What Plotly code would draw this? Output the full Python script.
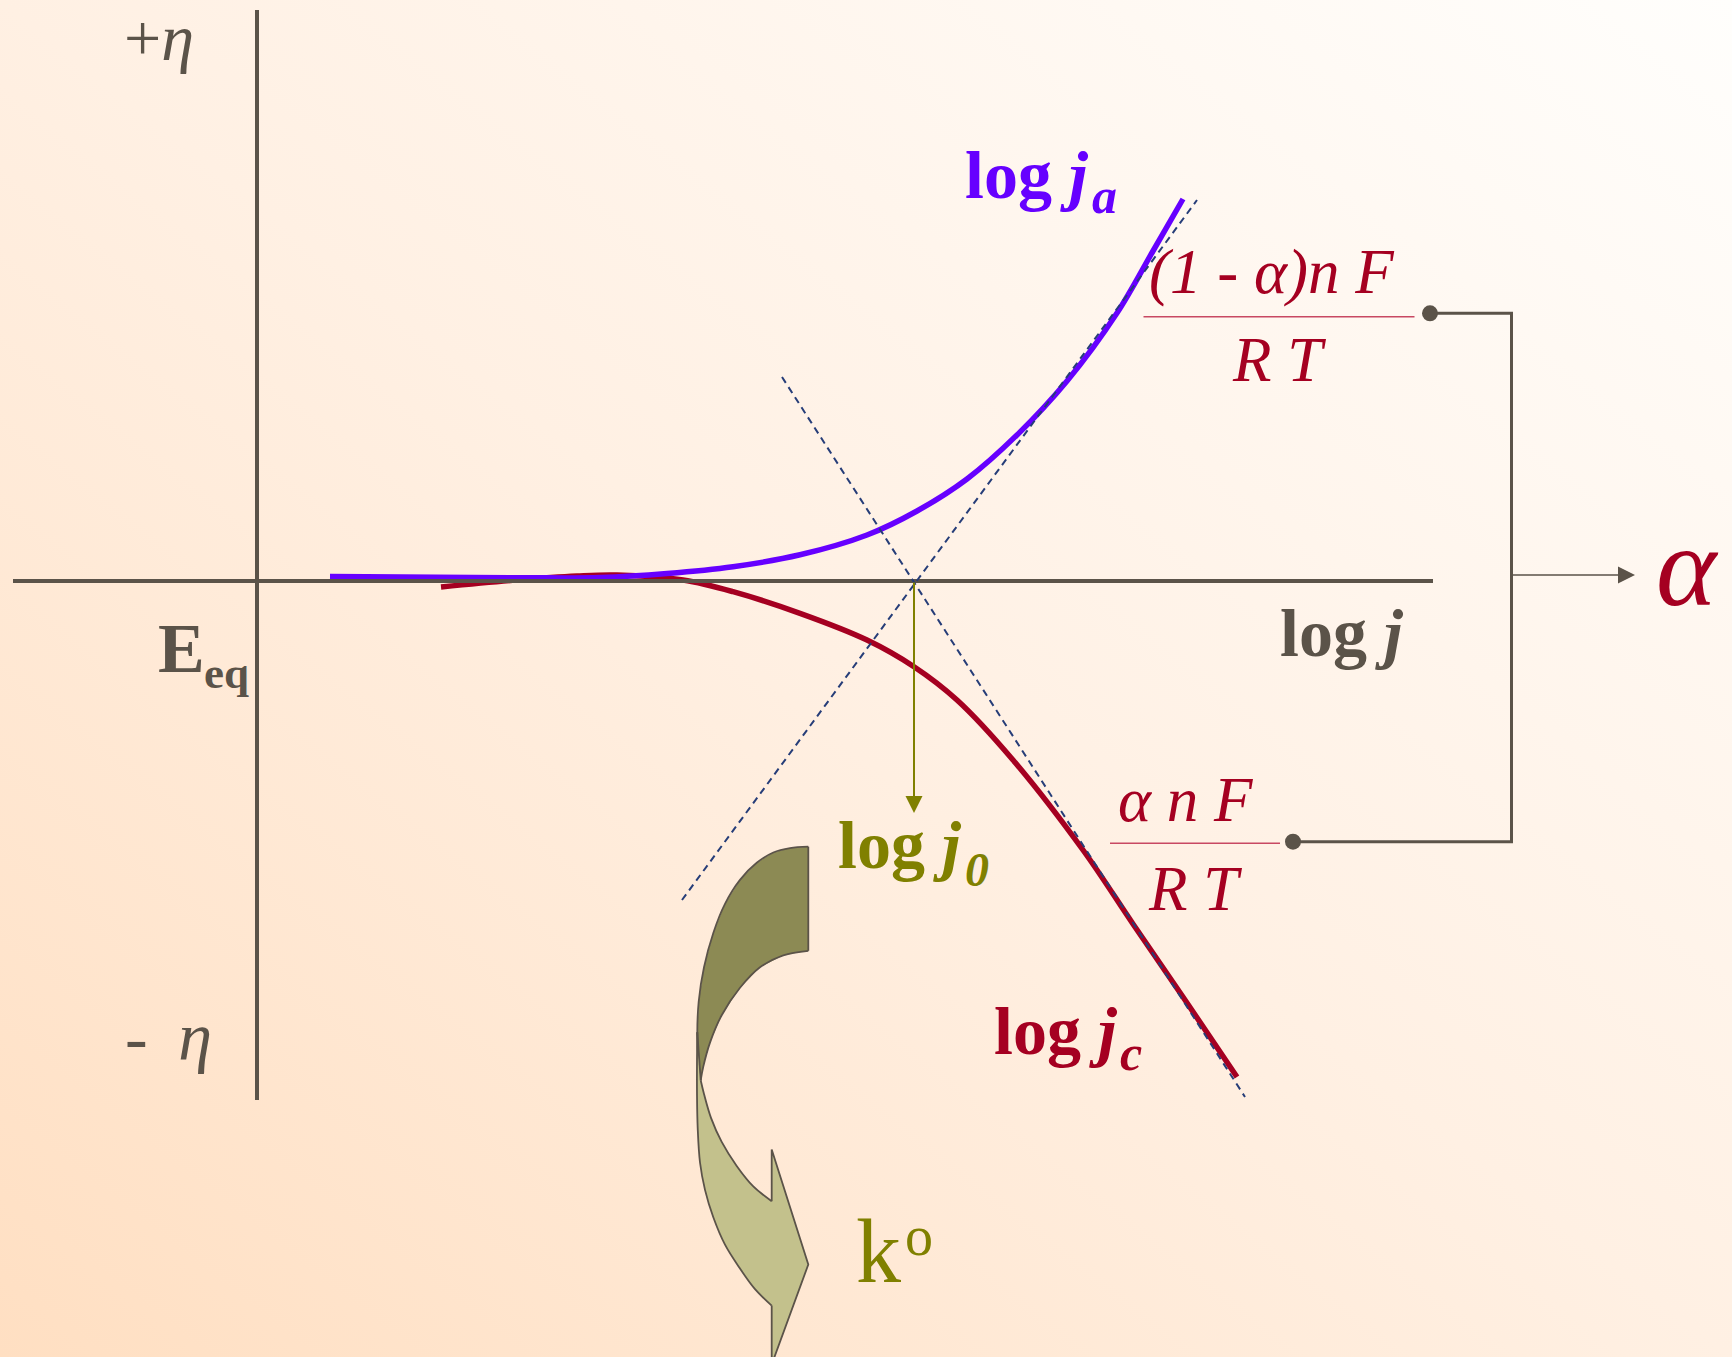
import base64
import plotly.graph_objects as go

# ---------------------------------------------------------------
# Tafel plot: overpotential eta (vertical) versus log j (horizontal)
# one unit on either axis = 100 px on the page
# ---------------------------------------------------------------

LOG_J0 = 6.57          # exchange current density, where the Tafel lines cross

# anodic branch, log j_a
anodic_logj = [0.73, 1.80, 2.70, 3.43, 4.10, 4.76, 5.43, 6.10, 6.60, 7.10, 7.60, 8.10, 8.60, 8.96, 9.26]
anodic_eta = [0.045, 0.037, 0.032, 0.035, 0.075, 0.143, 0.262, 0.46, 0.70, 1.02, 1.46, 2.00, 2.68, 3.30, 3.82]

# cathodic branch, log j_c
cathodic_logj = [1.84, 2.60, 3.20, 3.60, 4.26, 4.76, 5.43, 6.10, 6.57, 7.00, 7.56, 8.26, 8.76, 9.26, 9.80]
cathodic_eta = [-0.06, 0.01, 0.05, 0.06, 0.01, -0.107, -0.323, -0.59, -0.857, -1.19, -1.79, -2.69, -3.43, -4.16, -4.96]

# Tafel asymptotes (dashed)
anodic_tafel_logj = [4.25, 9.40]
anodic_tafel_eta = [-3.19, 3.81]
cathodic_tafel_logj = [5.25, 9.88]
cathodic_tafel_eta = [2.04, -5.16]

# drawn axes
eta_axis_logj = [0.0, 0.0]
eta_axis_eta = [5.71, -5.19]
logj_axis_logj = [-2.44, 11.76]
logj_axis_eta = [0.0, 0.0]

# bracket joining both slopes to alpha
bracket_x = [11.73, 12.545, 12.545, 10.36]
bracket_y = [2.677, 2.677, -2.607, -2.607]
alpha_arrow_x = [12.545, 13.78]
alpha_arrow_y = 0.06

# fraction bars of the two slope expressions
anodic_bar_x = [8.865, 11.575]
anodic_bar_y = [2.643, 2.643]
cathodic_bar_x = [8.53, 10.23]
cathodic_bar_y = [-2.623, -2.623]

# foot of the arrow dropped from the crossing point onto the log j0 label
j0_arrow_eta = -2.32

# curved block arrow (log j0 -> k°)
# back band: outer arc (0-11), inner arc (11-18), straight right edge back to 0
arrow_back_x = [5.513, 5.33, 5.163, 4.997, 4.83, 4.68, 4.563, 4.47, 4.417, 4.403, 4.413, 4.437,
                4.463, 4.53, 4.647, 4.83, 5.03, 5.263, 5.513]
arrow_back_y = [-2.657, -2.671, -2.715, -2.818, -2.989, -3.229, -3.52, -3.863, -4.205, -4.513, -4.787, -4.993,
                -4.856, -4.616, -4.342, -4.068, -3.863, -3.743, -3.698]
# front band: outer curve (0-10), head (10-14), inner curve (14-20)
arrow_front_x = [4.403, 4.40, 4.40, 4.407, 4.43, 4.48, 4.563, 4.68, 4.83, 4.98, 5.147, 5.147,
                 5.513, 5.147, 5.147, 4.963, 4.797, 4.647, 4.54, 4.47, 4.437]
arrow_front_y = [-4.513, -4.787, -5.13, -5.472, -5.815, -6.089, -6.363, -6.637, -6.876, -7.082, -7.246, -7.835,
                 -6.835, -5.685, -6.202, -6.054, -5.849, -5.609, -5.369, -5.13, -4.993]

# ---------------------------------------------------------------
GREY = "#5B5349"
BLUE = "#6600FF"
RED = "#A50021"
OLIVE = "#808000"
DASH = "#263D78"
BAR = "#C84862"
FONT = "Liberation Serif"

fig = go.Figure()


def band(xs, ys, fillcolor, curved, straight):
    """Filled outline; curved runs are stroked as splines, straight runs as polylines."""
    fig.add_trace(go.Scatter(x=xs, y=ys, mode="lines", fill="toself", fillcolor=fillcolor,
                             line=dict(width=0)))
    for a, b in curved:
        fig.add_trace(go.Scatter(x=xs[a:b + 1], y=ys[a:b + 1], mode="lines",
                                 line=dict(color=GREY, width=1.8, shape="spline", smoothing=1.0)))
    for idx in straight:
        fig.add_trace(go.Scatter(x=[xs[i] for i in idx], y=[ys[i] for i in idx], mode="lines",
                                 line=dict(color=GREY, width=1.8)))


band(arrow_back_x, arrow_back_y, "#8C8A54", [(0, 11), (11, 18)], [[18, 0]])
band(arrow_front_x, arrow_front_y, "#C3C18C", [(0, 10), (14, 20)], [[10, 11, 12, 13, 14], [20, 0]])

fig.add_trace(go.Scatter(x=cathodic_logj, y=cathodic_eta, mode="lines",
                         line=dict(color=RED, width=5.5, shape="spline", smoothing=1.0)))
fig.add_trace(go.Scatter(x=anodic_logj, y=anodic_eta, mode="lines",
                         line=dict(color=BLUE, width=5.5, shape="spline", smoothing=1.0)))

for xs, ys in [(eta_axis_logj, eta_axis_eta), (logj_axis_logj, logj_axis_eta)]:
    fig.add_trace(go.Scatter(x=xs, y=ys, mode="lines", line=dict(color=GREY, width=4)))

for xs, ys in [(anodic_tafel_logj, anodic_tafel_eta), (cathodic_tafel_logj, cathodic_tafel_eta)]:
    fig.add_trace(go.Scatter(x=xs, y=ys, mode="lines",
                             line=dict(color=DASH, width=2, dash="7px,5px")))

for xs, ys in [(anodic_bar_x, anodic_bar_y), (cathodic_bar_x, cathodic_bar_y)]:
    fig.add_trace(go.Scatter(x=xs, y=ys, mode="lines", line=dict(color=BAR, width=1.5)))

fig.add_trace(go.Scatter(x=bracket_x, y=bracket_y, mode="lines", line=dict(color=GREY, width=3)))
fig.add_trace(go.Scatter(x=[bracket_x[0], bracket_x[-1]], y=[bracket_y[0], bracket_y[-1]], mode="markers",
                         marker=dict(color=GREY, size=16)))

annotations = []


def label(x, y, text, size, color, anchor="left", pad=1):
    annotations.append(dict(x=x, y=y, xref="x", yref="y", text=text, showarrow=False,
                            xanchor=anchor, yanchor="middle", borderpad=pad,
                            font=dict(family=FONT, size=size, color=color)))


def arrow(x0, y0, x1, y1, color, width, size):
    annotations.append(dict(x=x1, y=y1, ax=x0, ay=y0, xref="x", yref="y", axref="x", ayref="y",
                            text="", showarrow=True, arrowhead=2, arrowsize=size,
                            arrowwidth=width, arrowcolor=color, standoff=0))


arrow(LOG_J0, 0.0, LOG_J0, j0_arrow_eta, OLIVE, 2, 1.7)
arrow(alpha_arrow_x[0], alpha_arrow_y, alpha_arrow_x[1], alpha_arrow_y, GREY, 1.5, 2.27)

# axis labels
label(-1.34, 5.44, "+<i>η</i>", 66, GREY, pad=0)
label(-1.34, -4.56, "-\u00a0\u2009<i>η</i>", 68, GREY)
label(-1.01, -0.671, "<b>E</b>", 70, GREY)
label(-0.553, -0.918, "<b>eq</b>", 45, GREY)
label(10.21, -0.52, "<b>log <i>j</i></b>", 68, GREY)

# branch labels
label(7.06, 4.056, "<b>log <i>j</i></b>", 68, BLUE)
label(8.33, 3.85, "<b><i>a</i></b>", 50, BLUE)
label(7.35, -4.50, "<b>log <i>j</i></b>", 68, RED)
label(8.61, -4.72, "<b><i>c</i></b>", 50, RED)
label(5.79, -2.64, "<b>log <i>j</i></b>", 68, OLIVE)
label(7.06, -2.88, "<b><i>0</i></b>", 48, OLIVE)
label(5.97, -6.706, "k", 90, OLIVE)
label(6.46, -6.55, "o", 56, OLIVE)

# Tafel slopes
label(10.14, 3.09, "<i>(1 - α)n F</i>", 63, RED, "center")
label(10.22, 2.206, "<i>R T</i>", 63, RED, "center")
label(9.28, -2.194, "<i>α n F</i>", 63, RED, "center")
label(9.38, -3.077, "<i>R T</i>", 63, RED, "center")
label(14.305, 0.148, "<i>α</i>", 115, RED, "center")

# soft peach-to-white wash behind the diagram
svg = ('<svg xmlns="http://www.w3.org/2000/svg" width="1732" height="1357">'
       '<defs><linearGradient id="g" x1="0" y1="1" x2="1" y2="0">'
       '<stop offset="0" stop-color="#FFDFC2"/>'
       '<stop offset="0.5" stop-color="#FFF0E3"/>'
       '<stop offset="1" stop-color="#FFFEFC"/>'
       '</linearGradient></defs>'
       '<rect width="1732" height="1357" fill="url(#g)"/></svg>')
bg_src = "data:image/svg+xml;base64," + base64.b64encode(svg.encode()).decode()

fig.update_layout(
    width=1732, height=1357,
    margin=dict(l=0, r=0, t=0, b=0),
    paper_bgcolor="#FFF0E3", plot_bgcolor="rgba(0,0,0,0)",
    showlegend=False, hovermode=False,
    xaxis=dict(range=[-2.57, 14.75], visible=False, fixedrange=True),
    yaxis=dict(range=[-7.76, 5.81], visible=False, fixedrange=True),
    annotations=annotations,
    images=[dict(source=bg_src, xref="paper", yref="paper", x=0, y=1, sizex=1, sizey=1,
                 xanchor="left", yanchor="top", sizing="stretch", layer="below")],
)

fig.write_html("out.html")
